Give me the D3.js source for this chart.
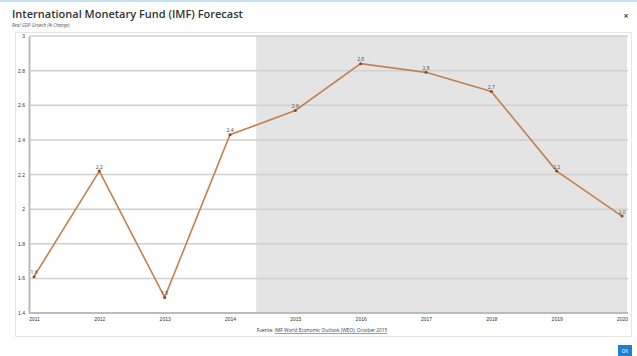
<!DOCTYPE html>
<html>
<head>
    <title>International Monetary Fund (IMF) Forecast</title>
    <script src="https://cdn.jsdelivr.net/npm/d3@7"></script>
    <style>
        body { margin: 0; background: #fff; font-family: "Open Sans", "DejaVu Sans", sans-serif; }
        #chart { width: 637px; height: 356px; }
        .grid line { stroke: #d0d0d0; stroke-width: 1.5px; }
        .tick text { fill: #333; font-size: 5px; }
    </style>
</head>
<body>
    <div id="chart"></div>
    <script>
        // Real GDP growth, IMF WEO October 2015
        var years = [2011, 2012, 2013, 2014, 2015, 2016, 2017, 2018, 2019, 2020];
        var growth = [1.61, 2.22, 1.49, 2.43, 2.57, 2.84, 2.79, 2.68, 2.22, 1.96];
        var labels = ["1.6", "2.2", "1.5", "2.4", "2.6", "2.8", "2.8", "2.7", "2.2", "2.0"];
        var yTicks = [1.4, 1.6, 1.8, 2, 2.2, 2.4, 2.6, 2.8, 3];
        var forecastStart = 2014.4;

        var width = 637, height = 356;
        var svg = d3.select("#chart").append("svg")
            .attr("width", width)
            .attr("height", height);

        // top bar of the dialog
        svg.append("rect").attr("x", 0).attr("y", 0).attr("width", width).attr("height", 2)
            .attr("fill", "#c6e2f7");

        svg.append("text")
            .attr("x", 12).attr("y", 18)
            .attr("font-size", 11).attr("font-weight", 600).attr("fill", "#333")
            .text("International Monetary Fund (IMF) Forecast");

        svg.append("text")
            .attr("x", 12).attr("y", 27)
            .attr("font-size", 4.5).attr("font-style", "italic").attr("fill", "#555")
            .text("Real GDP Growth (% Change)");

        svg.append("text")
            .attr("x", 626).attr("y", 19)
            .attr("font-size", 9).attr("font-weight", 700).attr("fill", "#444")
            .attr("text-anchor", "middle")
            .text("×");

        // chart panel
        svg.append("rect")
            .attr("x", 15.5).attr("y", 32.5).attr("width", 616).attr("height", 304)
            .attr("fill", "#fff").attr("stroke", "#e6e6e6");

        var x = d3.scaleLinear().domain([2011, 2020]).range([34, 622]);
        var y = d3.scaleLinear().domain([1.4, 3]).range([313, 36]);
        var plotRight = 628;

        // forecast shading
        svg.append("rect")
            .attr("x", x(forecastStart)).attr("y", y(3))
            .attr("width", plotRight - 1 - x(forecastStart)).attr("height", y(1.4) - y(3))
            .attr("fill", "#e4e4e4");

        var grid = svg.append("g").attr("class", "grid");
        grid.selectAll("line")
            .data(yTicks.slice(1))
            .enter().append("line")
            .attr("x1", 29).attr("x2", plotRight)
            .attr("y1", d => y(d)).attr("y2", d => y(d));

        var yAxis = svg.append("g")
            .attr("transform", "translate(29,0)")
            .call(d3.axisLeft(y).tickValues(yTicks).tickSize(0).tickPadding(4).tickFormat(d3.format("")));
        yAxis.select(".domain").attr("stroke", "#bbb").attr("stroke-width", 2);

        var xAxis = svg.append("g")
            .attr("transform", "translate(0," + y(1.4) + ")")
            .call(d3.axisBottom(x).tickValues(years).tickSize(0).tickPadding(4).tickFormat(d3.format("d")));
        xAxis.select(".domain").attr("stroke", "#bbb").attr("stroke-width", 2).attr("d", "M29,0H" + plotRight);

        var line = d3.line()
            .x((d, i) => x(years[i]))
            .y(d => y(d));

        svg.append("path")
            .datum(growth)
            .attr("fill", "none")
            .attr("stroke", "#c0834f")
            .attr("stroke-width", 1.6)
            .attr("d", line);

        svg.selectAll(".pt")
            .data(growth)
            .enter().append("circle")
            .attr("class", "pt")
            .attr("cx", (d, i) => x(years[i]))
            .attr("cy", d => y(d))
            .attr("r", 1.5)
            .attr("fill", "#8a4a22");

        svg.selectAll(".lbl")
            .data(growth)
            .enter().append("text")
            .attr("class", "lbl")
            .attr("x", (d, i) => x(years[i]))
            .attr("y", d => y(d) - 2.5)
            .attr("text-anchor", "middle")
            .attr("font-size", 5)
            .attr("fill", "#444")
            .text((d, i) => labels[i]);

        // source note
        var src = svg.append("text")
            .attr("x", 322).attr("y", 332)
            .attr("text-anchor", "middle")
            .attr("font-size", 4.8).attr("fill", "#333");
        src.append("tspan").text("Fuente: ");
        src.append("tspan").attr("text-decoration", "underline").attr("fill", "#1a3a6a")
            .text("IMF World Economic Outlook (WEO), October 2015");

        // OK button
        svg.append("rect").attr("x", 618).attr("y", 345).attr("width", 14).attr("height", 11)
            .attr("fill", "#1e7fd0");
        svg.append("text").attr("x", 625).attr("y", 352.5).attr("text-anchor", "middle")
            .attr("font-size", 4.5).attr("fill", "#fff").text("OK");
    </script>
</body>
</html>
